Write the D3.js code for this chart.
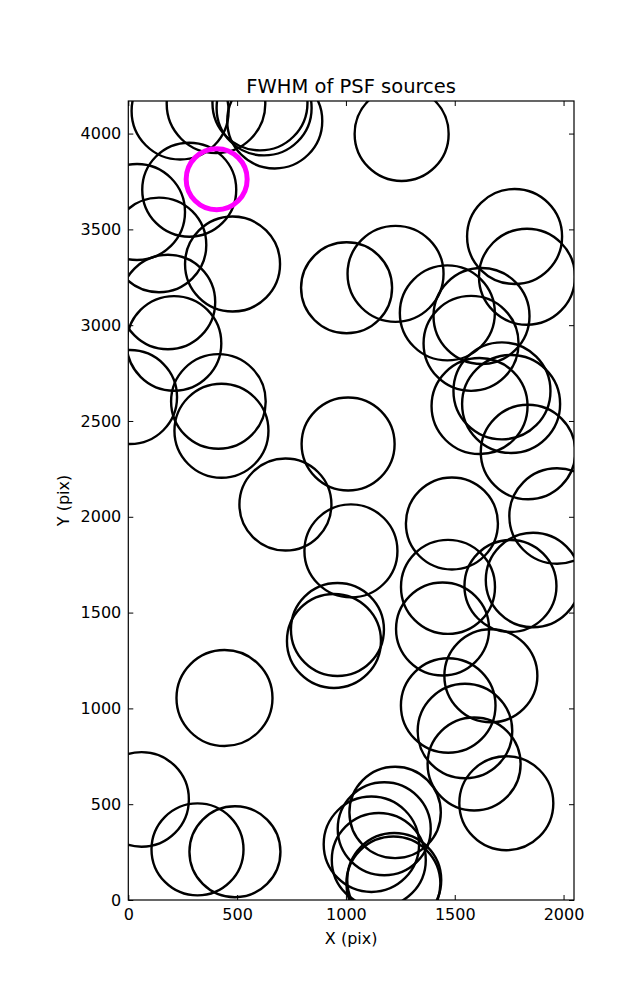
<!DOCTYPE html>
<html>
<head>
<meta charset="utf-8">
<script src="https://cdn.jsdelivr.net/npm/d3@7/dist/d3.min.js"></script>
<style>
  html, body { margin: 0; padding: 0; background: #fff; }
  svg { display: block; }
  text { font-family: "DejaVu Sans", sans-serif; fill: #000; }
</style>
</head>
<body>
<svg id="chart" width="637" height="1000"></svg>
<script>
// ---- data (detector pixel coordinates of PSF sources, FWHM in arbitrary units) ----
const srcX = [238, 403, 605, 624, 673, 1256, 280, 40, 141, 479, 1003, 182, 210, 8, 414, 428,
  1228, 1775, 1832, 1466, 1623, 1575, 1614, 1717, 1759, 1837, 1010, 722, 1023, 1487, 1970,
  1469, 1756, 1860, 1444, 961, 945, 1666, 1470, 1547, 1589, 1737, 442, 61, 318, 490,
  1226, 1176, 1117, 1151, 1222, 1218];
const srcY = [4118, 4155, 4160, 4134, 4066, 3998, 3707, 3591, 3419, 3319, 3195, 3121, 2905, 2625, 2602, 2449,
  3268, 3463, 3253, 3064, 3048, 2905, 2578, 2657, 2589, 2338, 2380, 2064, 1822, 1965, 2004,
  1634, 1639, 1670, 1414, 1412, 1352, 1170, 1015, 882, 710, 505, 1054, 525, 264, 252,
  457, 372, 291, 209, 104, 86];
const srcFwhm = [4.85, 4.93, 4.75, 4.75, 4.75, 4.7, 4.7, 4.8, 4.73, 4.75, 4.55, 4.73, 4.73, 4.7, 4.73, 4.7,
  4.8, 4.75, 4.8, 4.75, 4.8, 4.75, 4.8, 4.85, 4.9, 4.73, 4.65, 4.6, 4.65, 4.6, 4.77,
  4.7, 4.6, 4.73, 4.65, 4.65, 4.7, 4.65, 4.73, 4.73, 4.65, 4.7, 4.8, 4.73, 4.6, 4.55,
  4.57, 4.65, 4.77, 4.7, 4.7, 4.7];
// highlighted source
const hiX = [406];
const hiY = [3762];
const hiFwhm = [3.05];

const xTicks = [0, 500, 1000, 1500, 2000];
const yTicks = [0, 500, 1000, 1500, 2000, 2500, 3000, 3500, 4000];
const xDomain = [0, 2048];
const yDomain = [0, 4170];

const titleText = "FWHM of PSF sources";
const xLabel = "X (pix)";
const yLabel = "Y (pix)";

// ---- layout ----
const L = 128.3, R = 574, T = 101, B = 900;
const svg = d3.select("#chart");
const x = d3.scaleLinear().domain(xDomain).range([L, R]);
const y = d3.scaleLinear().domain(yDomain).range([B, T]);
const rScale = d3.scaleLinear().domain([0, 1]).range([0, 10]);

svg.append("defs").append("clipPath").attr("id", "plotclip")
  .append("rect").attr("x", L).attr("y", T).attr("width", R - L).attr("height", B - T);

const pts = srcX.map((d, i) => ({x: d, y: srcY[i], f: srcFwhm[i]}));
const hi = hiX.map((d, i) => ({x: d, y: hiY[i], f: hiFwhm[i]}));

const g = svg.append("g").attr("clip-path", "url(#plotclip)");
g.selectAll("circle.src").data(pts).join("circle")
  .attr("class", "src")
  .attr("cx", d => x(d.x)).attr("cy", d => y(d.y)).attr("r", d => rScale(d.f))
  .attr("fill", "none").attr("stroke", "#000").attr("stroke-width", 2.4);
g.selectAll("circle.hi").data(hi).join("circle")
  .attr("class", "hi")
  .attr("cx", d => x(d.x)).attr("cy", d => y(d.y)).attr("r", d => rScale(d.f))
  .attr("fill", "none").attr("stroke", "#ff00ff").attr("stroke-width", 5);

// ---- axes ----
const fs = 16;
const ax = svg.append("g").attr("transform", `translate(0,${B})`)
  .call(d3.axisBottom(x).tickValues(xTicks).tickSize(-5).tickPadding(9).tickFormat(d3.format("d")));
const ay = svg.append("g").attr("transform", `translate(${L},0)`)
  .call(d3.axisLeft(y).tickValues(yTicks).tickSize(-5).tickPadding(7).tickFormat(d3.format("d")));
const at = svg.append("g").attr("transform", `translate(0,${T})`)
  .call(d3.axisTop(x).tickValues(xTicks).tickSize(-5).tickFormat(""));
const ar = svg.append("g").attr("transform", `translate(${R},0)`)
  .call(d3.axisRight(y).tickValues(yTicks).tickSize(-5).tickFormat(""));
[ax, ay, at, ar].forEach(a => {
  a.select(".domain").remove();
  a.selectAll(".tick line").attr("stroke", "#000").attr("stroke-width", 1);
  a.selectAll("text").style("font-family", "'DejaVu Sans', sans-serif").style("font-size", fs + "px").attr("fill", "#000");
});

svg.append("rect").attr("x", L).attr("y", T).attr("width", R - L).attr("height", B - T)
  .attr("fill", "none").attr("stroke", "#000").attr("stroke-width", 1.2);

// ---- labels ----
svg.append("text").attr("x", (L + R) / 2).attr("y", 93).attr("text-anchor", "middle")
  .style("font-size", "19.5px").text(titleText);
svg.append("text").attr("x", (L + R) / 2).attr("y", 944).attr("text-anchor", "middle")
  .style("font-size", fs + "px").text(xLabel);
svg.append("text").attr("transform", `translate(69,${(T + B) / 2}) rotate(-90)`).attr("text-anchor", "middle")
  .style("font-size", fs + "px").text(yLabel);
</script>
</body>
</html>
